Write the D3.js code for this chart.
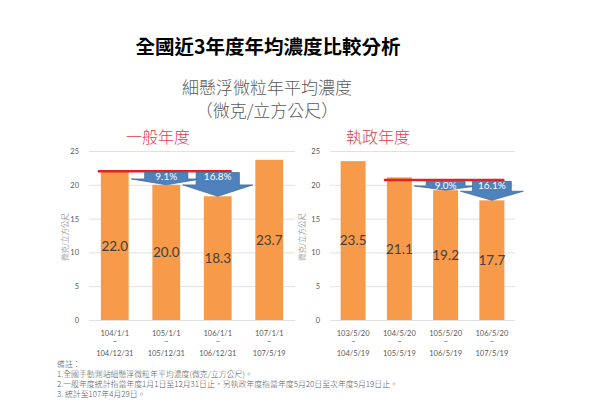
<!DOCTYPE html>
<html><head><meta charset="utf-8">
<script src="https://cdn.jsdelivr.net/npm/d3@7/dist/d3.min.js"></script>
<style>
html,body{margin:0;padding:0;background:#fff;}
svg{display:block;}
</style></head>
<body>
<svg id="c" width="591" height="420"></svg>
<script>
// ---- data ----
const mainTitle = "全國近3年度年均濃度比較分析";
const subTitle1 = "細懸浮微粒年平均濃度";
const subTitle2 = "（微克/立方公尺）";
const yAxisTitle = "微克/立方公尺";
const yTicks = [0, 5, 10, 15, 20, 25];

const leftTitle = "一般年度";
const leftStart = ["104/1/1", "105/1/1", "106/1/1", "107/1/1"];
const leftEnd = ["104/12/31", "105/12/31", "106/12/31", "107/5/19"];
const leftValues = [22.0, 20.0, 18.3, 23.7];
const leftRefLine = 22.0;
const leftRefFrom = 0, leftRefTo = 2;
const leftDrops = ["9.1%", "16.8%"];
const leftDropIdx = [1, 2];

const rightTitle = "執政年度";
const rightStart = ["103/5/20", "104/5/20", "105/5/20", "106/5/20"];
const rightEnd = ["104/5/19", "105/5/19", "106/5/19", "107/5/19"];
const rightValues = [23.5, 21.1, 19.2, 17.7];
const rightRefLine = 20.7;
const rightRefFrom = 1, rightRefTo = 3;
const rightDrops = ["9.0%", "16.1%"];
const rightDropIdx = [2, 3];

const notes = [
  "備註：",
  "1.全國手動測站細懸浮微粒年平均濃度(微克/立方公尺)。",
  "2.一般年度統計指當年度1月1日至12月31日止，另執政年度指當年度5月20日至次年度5月19日止。",
  "3. 統計至107年4月29日。"
];

// ---- drawing ----
const svg = d3.select("#c");
const CJK = "'Noto Sans CJK TC','Noto Sans CJK SC',sans-serif";
const NUM = "Lato,'Noto Sans',sans-serif";

svg.append("text").attr("x", 268).attr("y", 54).attr("text-anchor", "middle")
  .attr("font-family", CJK).attr("font-weight", 700).attr("font-size", 19.5)
  .attr("fill", "#000").text(mainTitle);
svg.append("text").attr("x", 267).attr("y", 94).attr("text-anchor", "middle")
  .attr("font-family", CJK).attr("font-weight", 300).attr("font-size", 17)
  .attr("fill", "#595959").text(subTitle1);
svg.append("text").attr("x", 267).attr("y", 117).attr("text-anchor", "middle")
  .attr("font-family", CJK).attr("font-weight", 300).attr("font-size", 17)
  .attr("fill", "#595959").text(subTitle2);

function drawChart(o) {
  const y = d3.scaleLinear().domain([0, 25]).range([320, 151]);
  const x = d3.scaleBand().domain(d3.range(o.values.length))
    .range([o.x0, o.x1]).paddingInner(0.46).paddingOuter(0.23);
  const g = svg.append("g");

  g.append("text").attr("x", o.titleX).attr("y", 143).attr("text-anchor", "middle")
    .attr("font-family", CJK).attr("font-weight", 300).attr("font-size", 16)
    .attr("fill", "#e23b45").text(o.title);

  // grid + y ticks
  const ya = g.append("g").attr("transform", `translate(${o.x0},0)`)
    .call(d3.axisLeft(y).tickValues(yTicks).tickSize(-(o.x1 - o.x0)).tickPadding(10));
  ya.select(".domain").remove();
  ya.selectAll(".tick line").attr("stroke", "#d9d9d9").attr("stroke-width", 0.8);
  ya.selectAll(".tick text").attr("font-family", NUM).attr("font-size", 7.5).attr("fill", "#595959");

  g.append("text").attr("transform", `translate(${o.yTitleX},237) rotate(-90)`)
    .attr("text-anchor", "middle").attr("font-family", CJK).attr("font-size", 7.5)
    .attr("fill", "#a6a6a6").text(yAxisTitle);

  // bars
  g.selectAll("rect.bar").data(o.values).join("rect").attr("class", "bar")
    .attr("x", (d, i) => x(i)).attr("width", x.bandwidth())
    .attr("y", d => y(d)).attr("height", d => y(0) - y(d))
    .attr("fill", "#f79b4a");
  g.selectAll("text.val").data(o.values).join("text").attr("class", "val")
    .attr("x", (d, i) => x(i) + x.bandwidth() / 2)
    .attr("y", d => (y(d) + y(0)) / 2).attr("dy", "0.36em")
    .attr("text-anchor", "middle").attr("font-family", NUM).attr("font-size", 13.5)
    .attr("fill", "#404040").text(d => d.toFixed(1));

  // x labels
  const xa = g.append("g").attr("transform", `translate(0,320)`)
    .call(d3.axisBottom(x).tickSize(0).tickFormat(""));
  xa.select(".domain").remove();
  xa.selectAll(".tick").each(function (d) {
    const t = d3.select(this).append("text").attr("text-anchor", "middle")
      .attr("font-family", NUM).attr("font-size", 7.5).attr("fill", "#595959");
    t.append("tspan").attr("x", 0).attr("y", 15.5).text(o.start[d]);
    t.append("tspan").attr("x", 0).attr("y", 23.5).text("~");
    t.append("tspan").attr("x", 0).attr("y", 35.5).text(o.end[d]);
  });

  // red reference line
  g.append("line")
    .attr("x1", x(o.refFrom) - 3).attr("x2", x(o.refTo) + x.bandwidth())
    .attr("y1", y(o.ref)).attr("y2", y(o.ref))
    .attr("stroke", "#e32222").attr("stroke-width", 2.4);

  // arrows
  const step = x.step();
  o.dropIdx.forEach((idx, k) => {
    const cx = x(idx) + x.bandwidth() / 2;
    const top = y(o.ref) + 1.3;
    const tip = y(o.values[idx]);
    const sh = top + (tip - top) * 0.52;
    const bh = step * 0.42, wh = step * 0.68;
    const pts = [[cx - bh, top], [cx + bh, top], [cx + bh, sh], [cx + wh, sh], [cx, tip],
      [cx - wh, sh], [cx - bh, sh]];
    g.append("polygon").attr("points", pts.map(p => p.join(",")).join(" "))
      .attr("fill", "#4f81bd").attr("stroke", "#3b669a").attr("stroke-width", 0.7);
    g.append("text").attr("x", cx).attr("y", top + 7.5).attr("text-anchor", "middle")
      .attr("font-family", NUM).attr("font-size", 10).attr("fill", "#fff").text(o.drops[k]);
  });
}

drawChart({ title: leftTitle, titleX: 158, x0: 89, x1: 295, yTitleX: 68,
  values: leftValues, start: leftStart, end: leftEnd, ref: leftRefLine,
  refFrom: leftRefFrom, refTo: leftRefTo, drops: leftDrops, dropIdx: leftDropIdx });
drawChart({ title: rightTitle, titleX: 378, x0: 330, x1: 515, yTitleX: 305,
  values: rightValues, start: rightStart, end: rightEnd, ref: rightRefLine,
  refFrom: rightRefFrom, refTo: rightRefTo, drops: rightDrops, dropIdx: rightDropIdx });

// notes
svg.append("g").selectAll("text").data(notes).join("text")
  .attr("x", 57).attr("y", (d, i) => 366.5 + i * 10)
  .attr("font-family", CJK).attr("font-weight", 300).attr("font-size", 7.9)
  .attr("fill", "#595959").text(d => d);
</script>
</body></html>
